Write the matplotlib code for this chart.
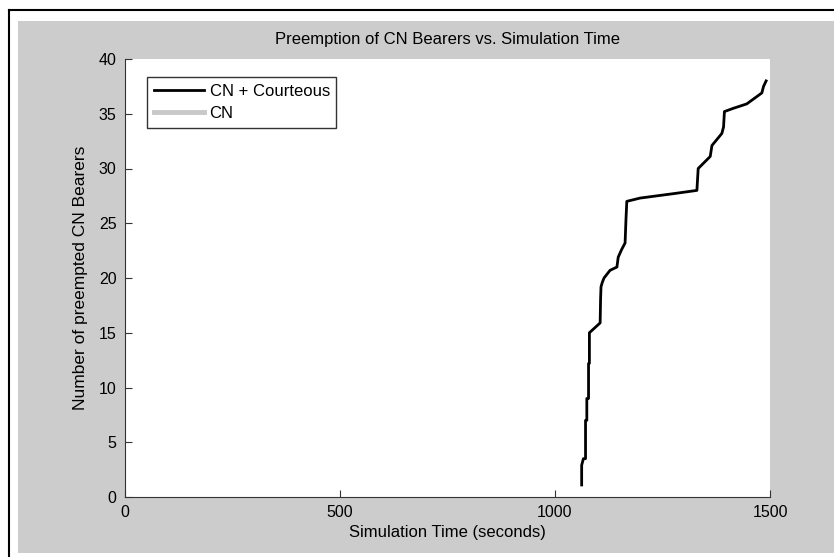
import matplotlib.pyplot as plt
from matplotlib.patches import Rectangle
from matplotlib.lines import Line2D

plt.rcParams['font.family'] = ['Liberation Sans', 'DejaVu Sans']

# CN + Courteous: preempted bearers over simulation time
t_courteous = [1062, 1062, 1066, 1071, 1071, 1074, 1074, 1078, 1078, 1080, 1080,
               1105, 1106, 1107, 1110, 1114, 1128, 1144, 1147, 1155, 1163, 1165,
               1167, 1198, 1275, 1330, 1333, 1361, 1365, 1388, 1392, 1394, 1415,
               1446, 1481, 1485, 1491]
n_courteous = [1.1, 2.9, 3.5, 3.5, 7.0, 7.0, 9.0, 9.0, 12.2, 12.2, 15.0,
               15.9, 18.1, 19.2, 19.6, 20.0, 20.7, 21.0, 21.9, 22.6, 23.2, 25.3,
               27.0, 27.3, 27.7, 28.0, 30.0, 31.1, 32.1, 33.2, 33.8, 35.2, 35.5,
               35.9, 36.9, 37.5, 38.0]
# CN series: nothing visible in the plot
t_cn = []
n_cn = []

W, H = 834, 557
fig = plt.figure(figsize=(W / 100, H / 100), dpi=100)
fig.patch.set_facecolor('white')

# MATLAB-like grey figure panel and black frame
fig.add_artist(Rectangle((18 / W, (H - 553) / H), (W - 18) / W, (553 - 21) / H,
                         transform=fig.transFigure, facecolor='#cccccc',
                         edgecolor='none', zorder=0))
fig.add_artist(Line2D([8.5 / W, 8.5 / W], [0, (H - 9.5) / H], transform=fig.transFigure,
                      color='black', lw=1.5))
fig.add_artist(Line2D([8.5 / W, 1], [(H - 9.5) / H, (H - 9.5) / H], transform=fig.transFigure,
                      color='black', lw=1.5))

ax = fig.add_axes([125 / W, 60 / H, 645 / W, 438 / H])
ax.set_facecolor('white')
ax.plot(t_courteous, n_courteous, color='black', lw=2, label='CN + Courteous')
ax.plot(t_cn, n_cn, color='#c8c8c8', lw=3.5, label='CN')

ax.set_xlim(0, 1500)
ax.set_ylim(0, 40)
ax.set_xticks([0, 500, 1000, 1500])
ax.set_yticks(range(0, 41, 5))
ax.spines['top'].set_visible(False)
ax.spines['right'].set_visible(False)
ax.spines['left'].set_color('#333333')
ax.spines['bottom'].set_color('#333333')
ax.tick_params(direction='in', length=5, labelsize=11.5, colors='#333333',
               labelcolor='black')
ax.tick_params(axis='x', pad=6)
ax.tick_params(axis='y', pad=6)

ax.set_title('Preemption of CN Bearers vs. Simulation Time', fontsize=12, pad=11)
ax.set_xlabel('Simulation Time (seconds)', fontsize=12, labelpad=3)
ax.set_ylabel('Number of preempted CN Bearers', fontsize=12.5, labelpad=8)

leg = ax.legend(loc='upper left', bbox_to_anchor=(22 / 645, 1 - 18 / 438),
                borderaxespad=0, fontsize=12, frameon=True, fancybox=False,
                edgecolor='black', handlelength=3.0, borderpad=0.4,
                handletextpad=0.35, labelspacing=0.45)
leg.get_frame().set_linewidth(1)

fig.savefig('out.png', dpi=100)
